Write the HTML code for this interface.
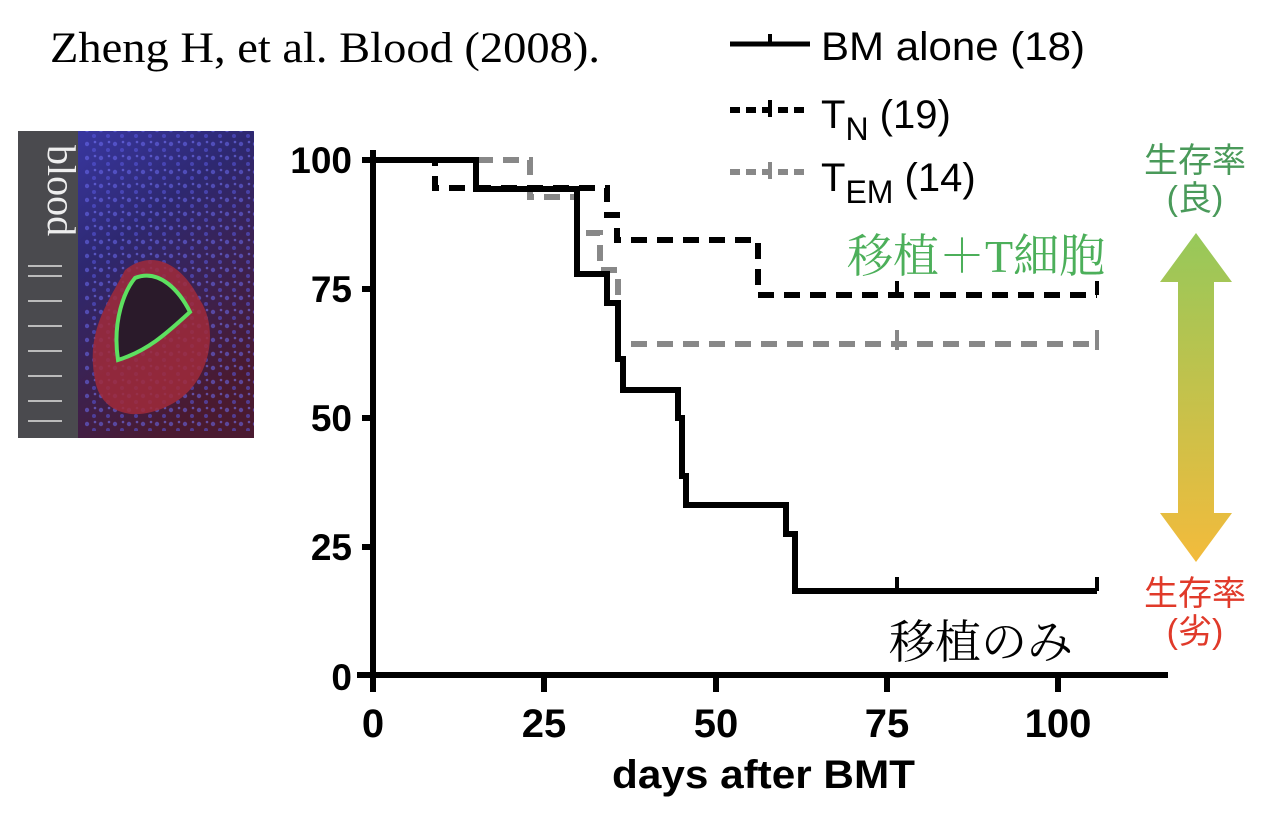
<!DOCTYPE html>
<html><head><meta charset="utf-8"><style>
html,body{margin:0;padding:0;background:#fff;width:1266px;height:818px;overflow:hidden;position:relative}
.t{position:absolute;white-space:nowrap}
</style></head><body>

<svg width="1266" height="818" style="position:absolute;left:0;top:0">
<defs>
<linearGradient id="cov" x1="0" y1="0" x2="0.6" y2="1">
<stop offset="0" stop-color="#3c3cb0"/><stop offset="0.45" stop-color="#2e2870"/><stop offset="1" stop-color="#4a1a30"/>
</linearGradient>
<pattern id="dots" width="14" height="14" patternUnits="userSpaceOnUse">
<circle cx="3" cy="4" r="2.2" fill="#6a6af0"/><circle cx="10" cy="10" r="2" fill="#5858e0"/><circle cx="11" cy="2" r="1.3" fill="#7a7aff"/>
</pattern>
<linearGradient id="arr" x1="0" y1="0" x2="0" y2="1">
<stop offset="0" stop-color="#96c85a"/><stop offset="1" stop-color="#f3bb3c"/>
</linearGradient>
</defs>
<text x="50" y="62" font-family="Liberation Serif,serif" font-size="43" textLength="550" lengthAdjust="spacingAndGlyphs" fill="#000">Zheng H, et al. Blood (2008).</text>
<!-- cover -->
<rect x="18" y="131" width="236" height="307" fill="url(#cov)"/>
<rect x="85" y="131" width="169" height="300" fill="url(#dots)" opacity="0.55"/>
<rect x="18" y="131" width="60" height="307" fill="#4a4a4e"/>
<path d="M95,380 C85,330 110,300 125,270 C150,250 180,260 200,300 C220,330 210,385 170,405 C130,425 100,410 95,380Z" fill="#a02a3a" opacity="0.85"/>
<path d="M118,360 C112,320 125,290 135,278 C160,268 180,292 190,312 C170,330 150,350 118,360Z" fill="#2a1a2a" stroke="#5de060" stroke-width="4"/>
<text x="48" y="145" font-family="Liberation Serif,serif" font-size="40" fill="#eee" transform="rotate(90 48 145)">blood</text>
<g fill="#bbb"><rect x="28" y="265" width="34" height="2"/><rect x="28" y="275" width="34" height="2"/><rect x="28" y="300" width="34" height="2"/><rect x="28" y="325" width="34" height="2"/><rect x="28" y="350" width="34" height="2"/><rect x="28" y="375" width="34" height="2"/><rect x="28" y="400" width="34" height="2"/><rect x="28" y="420" width="34" height="2"/></g>

<!-- axes -->
<g stroke="#000" stroke-width="6" fill="none">
<line x1="373" y1="150" x2="373" y2="692"/>
<line x1="357" y1="675" x2="1168" y2="675"/>
<line x1="362" y1="160" x2="373" y2="160"/>
<line x1="362" y1="289" x2="373" y2="289"/>
<line x1="362" y1="418" x2="373" y2="418"/>
<line x1="362" y1="547" x2="373" y2="547"/>
<line x1="544" y1="675" x2="544" y2="692"/>
<line x1="716" y1="675" x2="716" y2="692"/>
<line x1="887" y1="675" x2="887" y2="692"/>
<line x1="1058" y1="675" x2="1058" y2="692"/>
</g>
<g font-family="Liberation Sans,sans-serif" font-weight="bold" font-size="37" fill="#000">
<text x="352" y="173" text-anchor="end">100</text>
<text x="352" y="302" text-anchor="end">75</text>
<text x="352" y="431" text-anchor="end">50</text>
<text x="352" y="560" text-anchor="end">25</text>
<text x="352" y="690" text-anchor="end">0</text>
</g>
<g font-family="Liberation Sans,sans-serif" font-weight="bold" font-size="40" fill="#000">
<text x="373" y="737" text-anchor="middle">0</text>
<text x="544" y="737" text-anchor="middle">25</text>
<text x="716" y="737" text-anchor="middle">50</text>
<text x="887" y="737" text-anchor="middle">75</text>
<text x="1058" y="737" text-anchor="middle">100</text>
<text x="612" y="788" textLength="303" lengthAdjust="spacingAndGlyphs">days after BMT</text>
</g>

<!-- TEM gray dashed -->
<path d="M373,160 H530 V197 H577 V233 H600 V270 H618 V344 H1097" fill="none" stroke="#888" stroke-width="6" stroke-dasharray="16,10"/>
<!-- TN black dashed -->
<path d="M373,160 H435 V188 H607 V215 H617 V240 H758 V295 H1097" fill="none" stroke="#000" stroke-width="6" stroke-dasharray="16,10"/>
<!-- BM solid -->
<path d="M373,160 H476 V189 H577 V274 H607 V303 H618 V359 H623 V390 H678 V418 H682 V476 H686 V505 H786 V534 H795 V591 H1097" fill="none" stroke="#000" stroke-width="6"/>
<g stroke-width="4">
<line x1="897" y1="577" x2="897" y2="591" stroke="#000"/>
<line x1="1097" y1="577" x2="1097" y2="591" stroke="#000"/>
<line x1="897" y1="281" x2="897" y2="295" stroke="#000"/>
<line x1="1097" y1="281" x2="1097" y2="295" stroke="#000"/>
<line x1="897" y1="330" x2="897" y2="350" stroke="#888"/>
<line x1="1097" y1="330" x2="1097" y2="350" stroke="#888"/>
</g>

<!-- legend -->
<line x1="730" y1="44" x2="810" y2="44" stroke="#000" stroke-width="5"/>
<line x1="770" y1="34" x2="770" y2="44" stroke="#000" stroke-width="4"/>
<line x1="730" y1="110" x2="810" y2="110" stroke="#000" stroke-width="6" stroke-dasharray="10,6"/>
<line x1="770" y1="100" x2="770" y2="117" stroke="#000" stroke-width="4"/>
<line x1="730" y1="172" x2="810" y2="172" stroke="#888" stroke-width="6" stroke-dasharray="10,6"/>
<line x1="770" y1="162" x2="770" y2="179" stroke="#888" stroke-width="4"/>
<g font-family="Liberation Sans,sans-serif" font-size="40" fill="#000">
<text x="821" y="60" textLength="264" lengthAdjust="spacingAndGlyphs">BM alone (18)</text>
<text x="821" y="128">T<tspan font-size="32" dy="12">N</tspan><tspan dy="-12"> (19)</tspan></text>
<text x="821" y="191">T<tspan font-size="32" dy="12">EM</tspan><tspan dy="-12"> (14)</tspan></text>
</g>

<!-- arrow -->
<path d="M1196,233 L1232,282 L1214,282 L1214,513 L1232,513 L1196,562 L1160,513 L1178,513 L1178,282 L1160,282Z" fill="url(#arr)"/>
</svg>

<div class="t" style="left:847px;top:220px;font-family:'Liberation Serif','Noto Serif CJK SC',serif;font-size:46px;color:#4caf5a">移植＋T細胞</div>
<div class="t" style="left:889px;top:606px;font-family:'Liberation Serif','Noto Serif CJK SC',serif;font-size:46px;color:#000">移植のみ</div>
<div class="t" style="left:1130px;top:142px;width:130px;text-align:center;font-family:'Liberation Sans','Noto Sans CJK JP',sans-serif;font-size:34px;line-height:38px;color:#4a9a5a">生存率<br>(良)</div>
<div class="t" style="left:1130px;top:575px;width:130px;text-align:center;font-family:'Liberation Sans','Noto Sans CJK JP',sans-serif;font-size:34px;line-height:38px;color:#e03a2a">生存率<br>(劣)</div>
</body></html>
